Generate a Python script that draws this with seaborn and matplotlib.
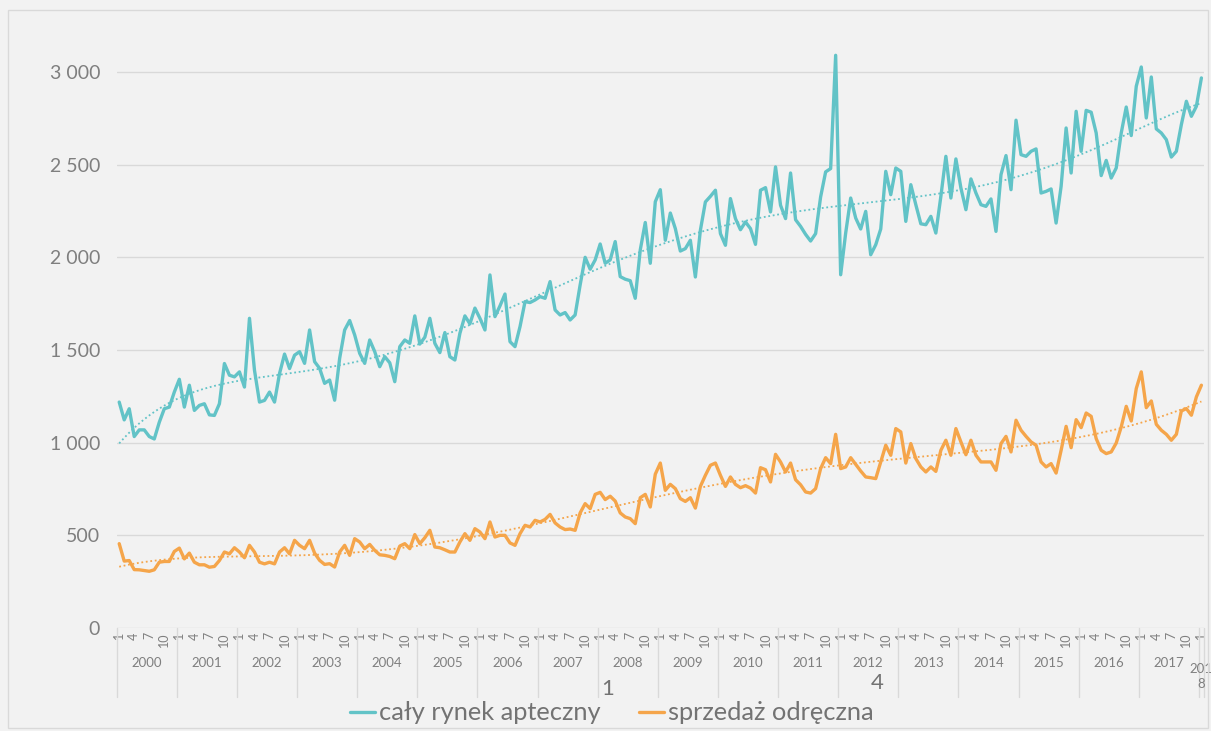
import matplotlib
matplotlib.use("Agg")
import matplotlib.pyplot as plt
import matplotlib.patches as mpatches
from matplotlib.lines import Line2D
import numpy as np
import pandas as pd
import seaborn as sns

# monthly values, Jan 2000 .. Jan 2018 (one row per year)
caly_rynek = [
    1219, 1123, 1183, 1033, 1069, 1069, 1033, 1020, 1110, 1183, 1192, 1273,
    1342, 1192, 1310, 1174, 1201, 1210, 1150, 1147, 1210, 1427, 1364, 1355,
    1382, 1300, 1671, 1391, 1219, 1228, 1273, 1219, 1373, 1478, 1400, 1472,
    1491, 1428, 1608, 1437, 1401, 1320, 1338, 1229, 1455, 1608, 1659, 1581,
    1482, 1428, 1554, 1491, 1410, 1464, 1431, 1329, 1518, 1554, 1536, 1684,
    1532, 1569, 1671, 1536, 1486, 1594, 1464, 1446, 1590, 1684, 1641, 1726,
    1671, 1608, 1905, 1680, 1738, 1802, 1545, 1518, 1626, 1761, 1756, 1770,
    1788, 1779, 1869, 1716, 1689, 1702, 1662, 1689, 1851, 2000, 1936, 1986,
    2072, 1968, 1986, 2085, 1896, 1882, 1874, 1779, 2040, 2188, 1968, 2300,
    2365, 2092, 2239, 2155, 2034, 2047, 2092, 1894, 2146, 2299, 2329, 2362,
    2128, 2065, 2317, 2209, 2149, 2191, 2155, 2070, 2362, 2376, 2245, 2488,
    2281, 2209, 2455, 2203, 2167, 2124, 2088, 2128, 2326, 2461, 2479, 3090,
    1906, 2131, 2320, 2212, 2153, 2248, 2014, 2068, 2153, 2464, 2338, 2482,
    2464, 2194, 2392, 2284, 2181, 2176, 2221, 2131, 2329, 2545, 2320, 2531,
    2374, 2257, 2423, 2347, 2284, 2275, 2315, 2140, 2446, 2549, 2365, 2740,
    2554, 2545, 2572, 2585, 2347, 2356, 2369, 2185, 2383, 2698, 2455, 2788,
    2572, 2793, 2783, 2671, 2441, 2523, 2428, 2482, 2671, 2811, 2657, 2923,
    3027, 2752, 2973, 2693, 2671, 2635, 2541, 2572, 2716, 2842, 2761, 2815,
    2968,
]
sprzedaz_odreczna = [
    455, 361, 364, 315, 314, 310, 306, 314, 355, 359, 359, 413,
    431, 373, 404, 355, 341, 341, 328, 332, 364, 410, 400, 433,
    410, 379, 446, 410, 355, 346, 355, 346, 410, 433, 400, 473,
    446, 428, 473, 404, 365, 343, 347, 329, 410, 446, 392, 482,
    464, 428, 451, 419, 395, 392, 386, 374, 442, 455, 428, 504,
    455, 487, 527, 437, 433, 422, 410, 410, 464, 509, 473, 536,
    518, 482, 572, 491, 500, 500, 459, 446, 509, 554, 545, 581,
    572, 586, 613, 567, 545, 531, 534, 527, 621, 671, 644, 721,
    732, 693, 711, 685, 621, 599, 590, 563, 703, 721, 653, 830,
    890, 743, 775, 752, 698, 683, 703, 647, 764, 824, 878, 890,
    824, 764, 815, 775, 757, 768, 755, 728, 865, 854, 788, 937,
    896, 842, 890, 800, 773, 734, 728, 752, 860, 919, 887, 1045,
    860, 869, 919, 883, 847, 815, 811, 806, 896, 986, 932, 1076,
    1058, 890, 995, 914, 869, 842, 869, 845, 959, 1013, 932, 1076,
    1004, 935, 1013, 932, 896, 896, 896, 851, 995, 1034, 950, 1121,
    1067, 1034, 1004, 986, 896, 869, 887, 836, 959, 1088, 973, 1124,
    1081, 1160, 1142, 1022, 959, 941, 950, 998, 1085, 1196, 1117, 1292,
    1382, 1189, 1225, 1099, 1067, 1045, 1013, 1045, 1171, 1184, 1148, 1247,
    1310,
]
years = list(range(2000, 2019))
month_labels = [1, 4, 7, 10]
series_names = ["cały rynek apteczny", "sprzedaż odręczna"]
legend_notes = ["1", "4"]
y_ticks = [0, 500, 1000, 1500, 2000, 2500, 3000]

colors = ["#62c3c7", "#f5a54a"]
grey = "#7f7f7f"
bg = "#f2f2f2"

n = len(caly_rynek)
idx = np.arange(n)
df = pd.DataFrame({
    "idx": np.concatenate([idx, idx]),
    "value": caly_rynek + sprzedaz_odreczna,
    "series": [series_names[0]] * n + [series_names[1]] * n,
})

sns.set_style("white")
plt.rcParams["font.family"] = ["Lato", "DejaVu Sans"]

fig = plt.figure(figsize=(12.11, 7.31), dpi=100, facecolor=bg)
fig.patches.append(mpatches.Rectangle((8 / 1211, 3 / 731), 1200 / 1211, 718 / 731,
                                      transform=fig.transFigure, fill=False,
                                      edgecolor="#d9d9d9", lw=1))
ax = fig.add_axes([116.7 / 1211, 1 - 628 / 731, 1087.2 / 1211, 611.6 / 731])
ax.set_facecolor(bg)

sns.lineplot(data=df, x="idx", y="value", hue="series", palette=colors,
             linewidth=2.4, legend=False, ax=ax, zorder=3)

# trend lines (polynomial fit)
for vals, c in zip([caly_rynek, sprzedaz_odreczna], colors):
    p = np.polynomial.Polynomial.fit(idx, vals, 6)
    ax.plot(idx, p(idx), color=c, lw=1.3, ls=(0, (1, 1.5)), zorder=2)

ax.set_xlim(-0.5, n - 0.5)
ax.set_ylim(0, 3300)
ax.set_yticks(y_ticks)
ax.set_yticklabels([f"{v:,}".replace(",", " ") for v in y_ticks])
ax.tick_params(axis="y", length=0, pad=12, labelsize=14, labelcolor=grey)
ax.grid(axis="y", color="#d9d9d9", lw=1)
ax.set_axisbelow(True)
for s in ax.spines.values():
    s.set_visible(False)

# month ticks
xt, xl = [], []
for y in years:
    for m in month_labels:
        k = (y - 2000) * 12 + m - 1
        if k < n:
            xt.append(k)
            xl.append(str(m))
ax.set_xticks(xt)
ax.set_xticklabels(xl, rotation=90)
ax.tick_params(axis="x", length=0, pad=3, labelsize=9, labelcolor=grey)
ax.set_xlabel("")
ax.set_ylabel("")

# year group labels and separators
trans = ax.get_xaxis_transform()
for y in years:
    start = (y - 2000) * 12
    end = min(start + 12, n)
    label = str(y) if end - start > 1 else "201\n8"
    ax.text((start + end - 1) / 2, -0.057, label, transform=trans, ha="center",
            va="center" if end - start > 1 else "top", fontsize=9.5, color=grey,
            linespacing=1.3)
for b in list(range(0, n, 12)) + [n]:
    ax.plot([b - 0.5, b - 0.5], [0, -0.113], transform=trans, color="#d9d9d9",
            lw=1, clip_on=False)

handles = [Line2D([], [], color=c, lw=2.4) for c in colors]
leg = fig.legend(handles, series_names, loc="center", bbox_to_anchor=(0.505, 1 - 713 / 731),
                 ncol=2, frameon=False, fontsize=18.3, handlelength=1.0,
                 handletextpad=0.15, columnspacing=1.5, labelcolor="#737373")
fig.text(608 / 1211, 1 - 689 / 731, legend_notes[0], fontsize=16, color="#737373",
         ha="center", va="center")
fig.text(877 / 1211, 1 - 683 / 731, legend_notes[1], fontsize=16, color="#737373",
         ha="center", va="center")

fig.savefig("out.png", dpi=100, facecolor=bg)
